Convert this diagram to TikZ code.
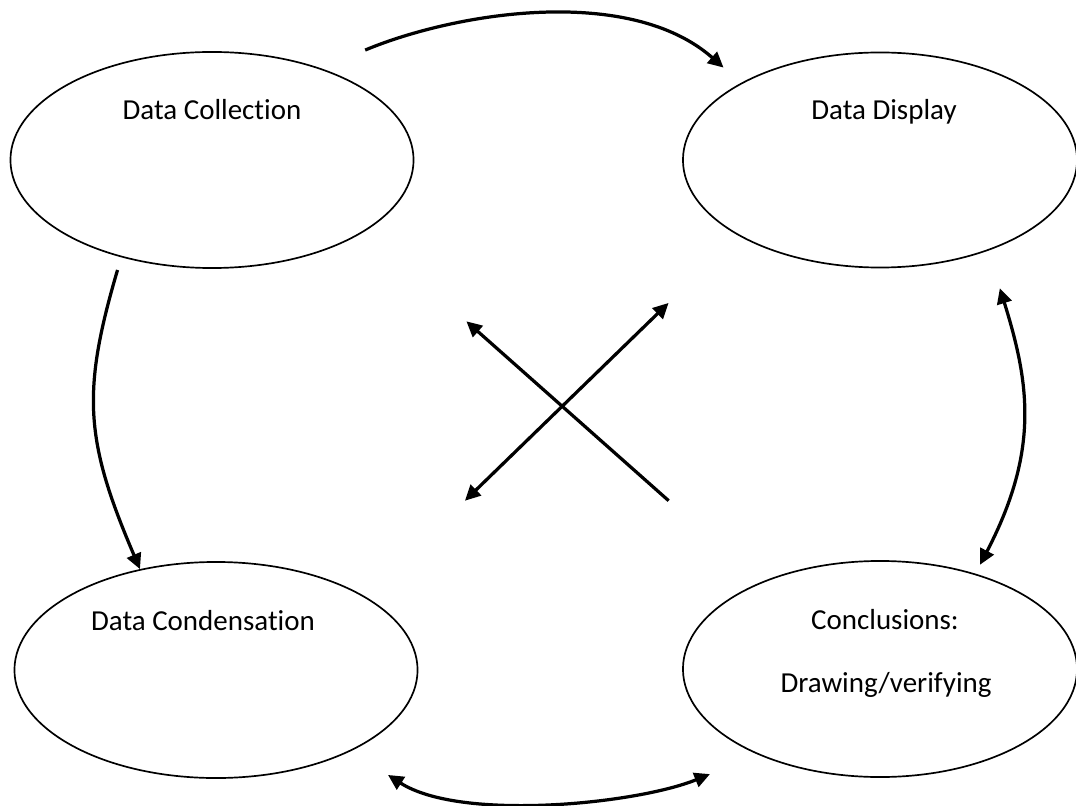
\documentclass[tikz,border=0pt]{standalone}
\usepackage{fontspec}
\setmainfont{Carlito}[Ligatures = NoCommon]
\usetikzlibrary{arrows.meta, calc, shapes.geometric}

\begin{document}
\begin{tikzpicture}[x = 0.025cm, y = -0.025cm]%
    %
    \def\wideaxis{10.075cm}%
    \def\narrowaxis{9.85cm}%
    \def\stageheight{5.4cm}%
    %
    \tikzstyle{stage} = [ellipse, draw = black, line width = 1.2pt, inner sep = 0pt, minimum height = \stageheight]%
    \tikzstyle{caption} = [anchor = base, inner sep = 0pt, font = \fontsize{20.6}{24}\selectfont]%
    \tikzstyle{arrow} = [line width = 2.3pt, -{Triangle[length = 11pt, width = 10.5pt]}]%
    \tikzstyle{twoway} = [line width = 2.3pt, {Triangle[length = 11pt, width = 10.5pt]}-{Triangle[length = 11pt, width = 10.5pt]}]%
    %
    \useasboundingbox (0, 0) rectangle (1076, 806);%
    %
    % Stages
    \node (collection) [stage, minimum width = \wideaxis] at (212, 160) {};%
    \node (display) [stage, minimum width = \narrowaxis, minimum height = 5.375cm] at (880, 160) {};%
    \node (condensation) [stage, minimum width = \wideaxis] at (216, 670) {};%
    \node (conclusions) [stage, minimum width = \narrowaxis] at (880, 669) {};%
    %
    % Captions
    \node (collectiontext) [caption] at ($(collection.center) + (0, -40)$) {Data Collection};%
    \node (displaytext) [caption] at ($(display.center) + (4, -40)$) {Data Display};%
    \node (condensationtext) [caption] at ($(condensation.center) + (-13, -40)$) {Data Condensation};%
    \node (conclusionstext) [caption] at ($(conclusions.center) + (5, -40)$) {Conclusions:};%
    \node (drawingtext) [caption] at ($(conclusions.center) + (6, 23)$) {Drawing/verifying};%
    %
    % Outer loop
    \draw [arrow, shorten <= 1.19cm, shorten >= 0.58cm] (collection.40) to [out = 22.6, in = 138.6, looseness = 0.9] (display.151);%
    \draw [arrow, shorten <= 0.33cm] (collection.227) to [out = 253.6, in = 113.2, looseness = 1.15] (condensation.127);%
    \draw [twoway, shorten <= 0.98cm, shorten >= 0.25cm] (display.-40) to [out = 287.3, in = 62.5, looseness = 1.1] (conclusions.45.5);%
    \draw [twoway, shorten <= 1.1cm, shorten >= 1.29cm] (condensation.-31) to [out = -32.8, in = 202.2, looseness = 0.82] (conclusions.215);%
    %
    % Cross
    \draw [arrow, shorten <= 3.07cm, shorten >= 3.39cm] (conclusions.144.7) -- (collection.-25.6);%
    \draw [twoway, shorten <= 3.45cm, shorten >= 2.42cm] (condensation.26.7) -- (display.208.8);%
    %
\end{tikzpicture}
\end{document}
